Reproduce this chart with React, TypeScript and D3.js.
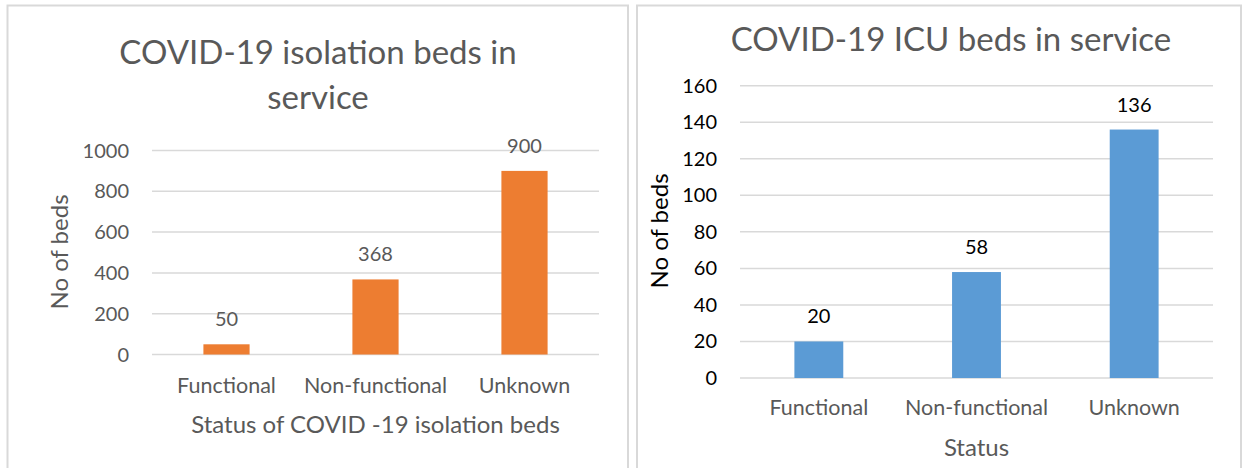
import React from 'react';
import * as d3 from 'd3';

// Chart data
const categories = ['Functional', 'Non-functional', 'Unknown'];
const isolationBeds = [50, 368, 900];
const icuBeds = [20, 58, 136];
const isolationTicks = [0, 200, 400, 600, 800, 1000];
const icuTicks = [0, 20, 40, 60, 80, 100, 120, 140, 160];

const FONT = 'Lato, "Open Sans", sans-serif';
const GRAY = '#595959';
const GRID = '#D9D9D9';

interface PanelProps {
  values: number[];
  ticks: number[];
  yMax: number;
  color: string;
  titleLines: { text: string; y: number }[];
  titleX: number;
  xTitle: string;
  xTitleY: number;
  yTitleX: number;
  yTitleY: number;
  plot: { left: number; right: number; top: number; bottom: number };
  tickRight: number;
  catY: number;
  numColor: string;
}

const BarPanel: React.FC<PanelProps> = (p) => {
  const x = d3.scaleBand<string>()
    .domain(categories)
    .range([p.plot.left, p.plot.right])
    .paddingInner(0.69)
    .paddingOuter(0.345);
  const y = d3.scaleLinear().domain([0, p.yMax]).range([p.plot.bottom, p.plot.top]);

  return (
    <g fontFamily={FONT}>
      {p.titleLines.map((t) => (
        <text key={t.text} x={p.titleX} y={t.y} textAnchor="middle" fontSize={33} fill={GRAY}>
          {t.text}
        </text>
      ))}

      {/* gridlines + tick labels */}
      {p.ticks.map((t) => (
        <g key={t}>
          <line x1={p.plot.left} x2={p.plot.right} y1={y(t)} y2={y(t)} stroke={GRID} strokeWidth={1.5} />
          <text x={p.tickRight} y={y(t) + 7} textAnchor="end" fontSize={20} fill={p.numColor}>
            {t}
          </text>
        </g>
      ))}

      {/* bars */}
      {categories.map((c, i) => (
        <rect key={c} x={x(c)} y={y(p.values[i])} width={x.bandwidth()}
          height={y(0) - y(p.values[i])} fill={p.color} />
      ))}

      {/* data labels */}
      {categories.map((c, i) => (
        <text key={c} x={(x(c) ?? 0) + x.bandwidth() / 2} y={y(p.values[i]) - 18}
          textAnchor="middle" fontSize={20} fill={p.numColor}>
          {p.values[i]}
        </text>
      ))}

      {/* category labels */}
      {categories.map((c) => (
        <text key={c} x={(x(c) ?? 0) + x.bandwidth() / 2} y={p.catY}
          textAnchor="middle" fontSize={21.5} fill={GRAY}>
          {c}
        </text>
      ))}

      <text x={(p.plot.left + p.plot.right) / 2 + (p.xTitle === 'Status' ? 0 : 0)} y={p.xTitleY}
        textAnchor="middle" fontSize={24} fill={GRAY}>
        {p.xTitle}
      </text>

      <text transform={`translate(${p.yTitleX},${p.yTitleY}) rotate(-90)`} textAnchor="middle"
        dominantBaseline="central" fontSize={24} fill={p.numColor}>
        No of beds
      </text>
    </g>
  );
};

export default function App() {
  return (
    <svg width={1244} height={468} style={{ position: 'absolute', left: 0, top: 0, background: '#fff' }}>
      <rect x={0} y={0} width={1244} height={468} fill="#fff" />
      <rect x={7.5} y={5.5} width={620.5} height={480} fill="none" stroke={GRID} strokeWidth={2} />
      <rect x={637} y={5.5} width={604} height={480} fill="none" stroke={GRID} strokeWidth={2} />

      <BarPanel
        values={isolationBeds}
        ticks={isolationTicks}
        yMax={1000}
        color="#ED7D31"
        titleLines={[
          { text: 'COVID-19 isolation beds in', y: 64 },
          { text: 'service', y: 109 },
        ]}
        titleX={318}
        xTitle="Status of COVID -19 isolation beds"
        xTitleY={433}
        yTitleX={58}
        yTitleY={252}
        plot={{ left: 152, right: 599, top: 150.5, bottom: 354.5 }}
        tickRight={129}
        catY={393}
        numColor={GRAY}
      />

      <BarPanel
        values={icuBeds}
        ticks={icuTicks}
        yMax={160}
        color="#5B9BD5"
        titleLines={[{ text: 'COVID-19 ICU beds in service', y: 51 }]}
        titleX={951}
        xTitle="Status"
        xTitleY={456}
        yTitleX={658.5}
        yTitleY={231}
        plot={{ left: 740, right: 1213, top: 85.7, bottom: 378 }}
        tickRight={717}
        catY={415}
        numColor="#000"
      />
    </svg>
  );
}
